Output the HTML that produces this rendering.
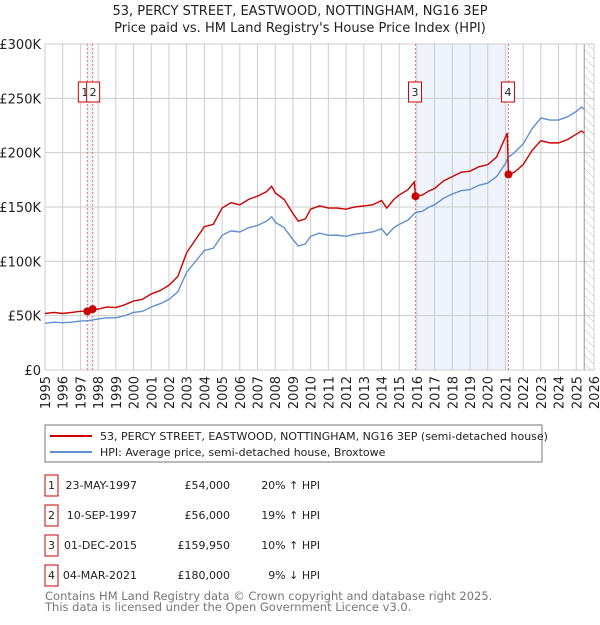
<!DOCTYPE html>
<html><head><meta charset="utf-8"><style>
body{margin:0;background:#fff;font-family:"Liberation Sans","DejaVu Sans",sans-serif;}
svg text{font-family:"DejaVu Sans","Liberation Sans",sans-serif;}
</style></head><body>
<svg id="c" width="600" height="620" xmlns="http://www.w3.org/2000/svg">
<defs><pattern id="hatch" width="6" height="6" patternUnits="userSpaceOnUse" patternTransform="rotate(-45)"><line x1="0" y1="0" x2="0" y2="6" stroke="#bbb" stroke-width="1"/></pattern></defs>
<text x="300" y="15" text-anchor="middle" font-size="13" fill="#222">53, PERCY STREET, EASTWOOD, NOTTINGHAM, NG16 3EP</text>
<text x="300" y="32" text-anchor="middle" font-size="13" fill="#222">Price paid vs. HM Land Registry's House Price Index (HPI)</text>
<g id="plot"></g>
<rect x="45" y="425" width="497" height="37" fill="#fff" stroke="#777"/>
<line x1="50" y1="436" x2="92" y2="436" stroke="#cc0000" stroke-width="2"/>
<text x="100" y="440" font-size="11" fill="#222">53, PERCY STREET, EASTWOOD, NOTTINGHAM, NG16 3EP (semi-detached house)</text>
<line x1="50" y1="452" x2="92" y2="452" stroke="#6090d0" stroke-width="2"/>
<text x="100" y="456" font-size="11" fill="#222">HPI: Average price, semi-detached house, Broxtowe</text>
<g id="table" font-size="11" fill="#222"></g>
<text x="45" y="600" font-size="11.5" fill="#777">Contains HM Land Registry data © Crown copyright and database right 2025.</text>
<text x="45" y="611" font-size="11.5" fill="#777">This data is licensed under the Open Government Licence v3.0.</text>
</svg>
<script>
const hpiYears=[1995,1995.5,1996,1996.5,1997,1997.5,1998,1998.5,1999,1999.5,2000,2000.5,2001,2001.5,2002,2002.5,2003,2003.5,2004,2004.5,2005,2005.5,2006,2006.5,2007,2007.5,2007.8,2008,2008.5,2009,2009.3,2009.7,2010,2010.5,2011,2011.5,2012,2012.5,2013,2013.5,2014,2014.3,2014.7,2015,2015.5,2015.92,2016.3,2016.7,2017,2017.5,2018,2018.5,2019,2019.5,2020,2020.5,2021,2021.17,2021.5,2022,2022.5,2023,2023.5,2024,2024.5,2025,2025.3,2025.45];
const hpiValues=[43,44,43.5,44,45,45.5,47,48,48,50,53,54,58,61,65,72,90,100,110,112,124,128,127,131,133,137,141,136,131,120,114,116,123,126,124,124,123,125,126,127,130,124,131,134,138,145,146,150,152,158,162,165,166,170,172,178,190,196,200,208,222,232,230,230,233,238,242,240];
const priceYears=[1995,1995.5,1996,1996.5,1997,1997.39,1997.69,1998,1998.5,1999,1999.5,2000,2000.5,2001,2001.5,2002,2002.5,2003,2003.5,2004,2004.5,2005,2005.5,2006,2006.5,2007,2007.5,2007.8,2008,2008.5,2009,2009.3,2009.7,2010,2010.5,2011,2011.5,2012,2012.5,2013,2013.5,2014,2014.3,2014.7,2015,2015.5,2015.85,2015.92,2016.3,2016.7,2017,2017.5,2018,2018.5,2019,2019.5,2020,2020.5,2021.1,2021.17,2021.5,2022,2022.5,2023,2023.5,2024,2024.5,2025,2025.3,2025.45];
const priceValues=[52,53,52,53,54,54,56,56,58,57.5,60,63.5,65,70,73,78,86,108,120,132,134,149,154,152,157,160,164,169,163,157,144,137,139,148,151,149,149,148,150,151,152,156,149,157,161,166,173,160,161,165,167,174,178,182,183,187,189,196,218,180,182,189,202,211,209,209,212,217,220,218];
const saleIds=["1","2","3","4"];
const saleYears=[1997.39,1997.69,2015.92,2021.17];
const salePrices=[54,56,159.95,180];
const saleDates=["23-MAY-1997","10-SEP-1997","01-DEC-2015","04-MAR-2021"];
const salePriceLabels=["£54,000","£56,000","£159,950","£180,000"];
const saleHpiLabels=["20% ↑ HPI","19% ↑ HPI","10% ↑ HPI","9% ↓ HPI"];
const yTicks=[0,50,100,150,200,250,300];
const yTickLabels=["£0","£50K","£100K","£150K","£200K","£250K","£300K"];
const xTicks=[1995,1996,1997,1998,1999,2000,2001,2002,2003,2004,2005,2006,2007,2008,2009,2010,2011,2012,2013,2014,2015,2016,2017,2018,2019,2020,2021,2022,2023,2024,2025,2026];

const NS="http://www.w3.org/2000/svg";
const X0=45,X1=594,Y0=370,Y1=44;
const xs=v=>X0+(v-1995)/(2026-1995)*(X1-X0);
const ys=v=>Y0-v/300*(Y0-Y1);
const plot=document.getElementById('plot');
function mk(tag,attrs,parent){const e=document.createElementNS(NS,tag);for(const k in attrs)e.setAttribute(k,attrs[k]);(parent||plot).appendChild(e);return e;}
let sh=mk('rect',{x:xs(saleYears[0]),y:Y1,width:xs(saleYears[1])-xs(saleYears[0]),height:Y0-Y1,fill:'#eef3fc'});


sh=mk('rect',{x:xs(saleYears[2]),y:Y1,width:xs(saleYears[3])-xs(saleYears[2]),height:Y0-Y1,fill:'#eef3fc'});


const hx=xs(2025.45);
sh=mk('rect',{x:hx,y:Y1,width:X1-hx,height:Y0-Y1,fill:'url(#hatch)'});


yTicks.forEach((t,i)=>{
 const l=mk('line',{x1:X0,x2:X1,y1:ys(t),y2:ys(t),stroke:'#ccc'});
 
 
 const tx=mk('text',{x:X0-4,y:ys(t)+5,'text-anchor':'end','font-size':'13',fill:'#222'});
 tx.textContent=yTickLabels[i];
 
 
});
xTicks.forEach(t=>{
 const l=mk('line',{x1:xs(t),x2:xs(t),y1:Y1,y2:Y0,stroke:'#ccc'});
 
 
 const tx=mk('text',{x:0,y:0,'text-anchor':'end','font-size':'13',fill:'#222',transform:`translate(${xs(t)+5},${Y0+6}) rotate(-90)`});
 tx.textContent=t;
 
 
});
let ln=mk('line',{x1:hx,x2:hx,y1:Y1,y2:Y0,stroke:'#999'});


let bd=mk('rect',{x:X0,y:Y1,width:X1-X0,height:Y0-Y1,fill:'none',stroke:'#ccc'});


saleYears.forEach(s=>{
 const l=mk('line',{x1:xs(s),x2:xs(s),y1:Y1,y2:Y0,stroke:'#f07070','stroke-dasharray':'2,2'});
 
 
});
const hp=mk('polyline',{points:hpiYears.map((t,i)=>xs(t)+','+ys(hpiValues[i])).join(' '),fill:'none',stroke:'#6090d0','stroke-width':'1.4'});


const pp=mk('polyline',{points:priceYears.map((t,i)=>xs(t)+','+ys(priceValues[i])).join(' '),fill:'none',stroke:'#cc0000','stroke-width':'1.4'});


saleYears.forEach((s,i)=>{
 const c=mk('circle',{cx:xs(s),cy:ys(salePrices[i]),r:4,fill:'#cc0000'});
 
 
});
const boxX=[xs(saleYears[0])-9,xs(saleYears[1])-6,xs(saleYears[2])-7,xs(saleYears[3])-7];
saleIds.forEach((id,i)=>{
 const g=mk('g',{});
 
 
 mk('rect',{x:boxX[i],y:82,width:13,height:20,fill:'#fff',stroke:'#cc0000'},g);
 const t=mk('text',{x:boxX[i]+6.5,y:96,'text-anchor':'middle','font-size':'11',fill:'#222'},g);
 t.textContent=id;
});
const tb=document.getElementById('table');
const rowY=[483,513,543,573];
saleIds.forEach((id,i)=>{
 const g=mk('g',{},tb);
 
 
 mk('rect',{x:45,y:rowY[i]-8,width:13,height:21,fill:'#fff',stroke:'#cc0000'},g);
 let t=mk('text',{x:51.5,y:rowY[i]+6,'text-anchor':'middle'},g);t.textContent=id;
 t=mk('text',{x:137,y:rowY[i]+6,'text-anchor':'end'},g);t.textContent=saleDates[i];
 t=mk('text',{x:230,y:rowY[i]+6,'text-anchor':'end'},g);t.textContent=salePriceLabels[i];
 t=mk('text',{x:320,y:rowY[i]+6,'text-anchor':'end'},g);t.textContent=saleHpiLabels[i];
});
</script>
</body></html>
